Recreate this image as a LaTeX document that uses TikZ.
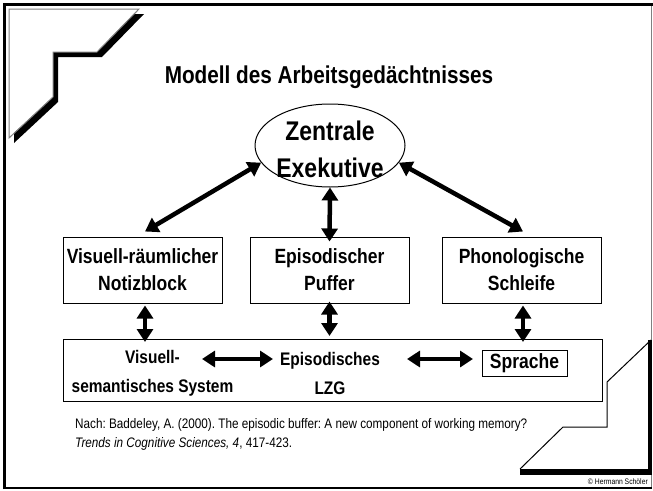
\documentclass[tikz,border=0pt]{standalone}
\usepackage{fontspec}
\setmainfont[FakeStretch=0.85]{Liberation Sans}
\usetikzlibrary{arrows.meta,shapes.geometric}
\begin{document}
\frenchspacing
\begin{tikzpicture}[x=1pt,y=-1pt,
  box/.style={draw,line width=1pt,minimum width=159pt,minimum height=66pt,inner sep=0pt,align=center,
    font=\bfseries\fontsize{20.6}{27}\selectfont},
  lowtext/.style={align=center,inner sep=0pt,font=\bfseries\fontsize{18.2}{28.5}\selectfont},
  dbl/.style={line width=4.5pt,{Triangle[length=13pt,width=16pt]}-{Triangle[length=13pt,width=16pt]}},
  cite/.style={anchor=base west,inner sep=0pt,font=\fontsize{13.8}{15}\selectfont}]
\useasboundingbox (0,0) rectangle (653,490);
\fill[white] (0,0) rectangle (653,490);
% outer frame
\draw[gray,line width=1.2pt] (651.5,4.5) -- (651.5,488);
\draw[line width=1.5pt] (4.5,488) -- (652,488);
\draw[line width=3pt] (4.5,489) -- (4.5,4.5) -- (653,4.5);
% top-left decoration
\fill (134,14) -- (144,14) -- (102,57) -- (58,57) -- (58,102) -- (14,143) -- (14,133) -- (53,97) -- (53,52) -- (97,52) -- cycle;
\draw[gray,line width=1pt] (9,9) -- (139,9) -- (97,52) -- (53,52) -- (53,97) -- (9,138) -- cycle;
% bottom-right decoration
\draw[line width=1pt] (651,340) -- (607,382) -- (607,427) -- (563,427) -- (520,469);
\fill (520,469) rectangle (652,475);
\fill (648,340) rectangle (652,475);
% title
\node[font=\bfseries\fontsize{24.4}{28}\selectfont,inner sep=0pt] (title) at (329,77) {Modell des Arbeitsgedächtnisses};
% ellipse
\node[ellipse,draw,line width=1pt,minimum width=150pt,minimum height=83pt,inner sep=0pt] (ell) at (330,145.5) {};
\node[align=center,inner sep=0pt,font=\bfseries\fontsize{27}{37}\selectfont] (ztext) at (330,149) {Zentrale\\Exekutive};
% boxes
\node[box] (lbox) at (142.5,270) {Visuell-räumlicher\\Notizblock};
\node[box] (mbox) at (329.5,270) {Episodischer\\Puffer};
\node[box] (rbox) at (521.5,270) {Phonologische\\Schleife};
\node[draw,line width=1pt,minimum width=539pt,minimum height=62pt,inner sep=0pt] (bbox) at (332.5,370.5) {};
\node[lowtext] (vis) at (152.5,373.5) {Visuell-\\semantisches System};
\node[lowtext] (epi) at (330,373.5) {Episodisches\\LZG};
\node[draw,line width=1pt,minimum width=85pt,minimum height=26pt,inner sep=0pt,font=\bfseries\fontsize{20.6}{22}\selectfont] (spr) at (524.5,363) {Sprache};
% arrows
\draw[dbl] (ell.194) -- ([shift={(2.5,-5)}]lbox.north);
\draw[dbl] (ell.south) -- ([yshift=-5]mbox.north);
\draw[dbl] (ell.346) -- ([shift={(1.5,-5)}]rbox.north);
\draw[dbl] ([shift={(2.5,2)}]lbox.south) -- ([shift={(2.5,3)}]bbox.north -| lbox.south);
\draw[dbl] ([yshift=2]mbox.south) -- ([yshift=3]bbox.north -| mbox.south);
\draw[dbl] ([shift={(1.5,2)}]rbox.south) -- ([shift={(1.5,3)}]bbox.north -| rbox.south);
\coordinate (h1a) at (202,359);
\coordinate (h1b) at (273,359);
\coordinate (h2a) at (407,359);
\coordinate (h2b) at (473,359);
\draw[dbl] (h1a) -- (h1b);
\draw[dbl] (h2a) -- (h2b);
% citation
\node[cite] (c1) at (75,428) {Nach: Baddeley, A. (2000). The episodic buffer: A new component of working memory?};
\node[cite] (c2) at (75,447) {\textit{Trends in Cognitive Sciences, 4}, 417-423.};
\node[anchor=east,inner sep=0pt,font=\fontsize{8}{9}\selectfont] (copy) at (648,481.5) {© Hermann Schöler};
\end{tikzpicture}
\end{document}
